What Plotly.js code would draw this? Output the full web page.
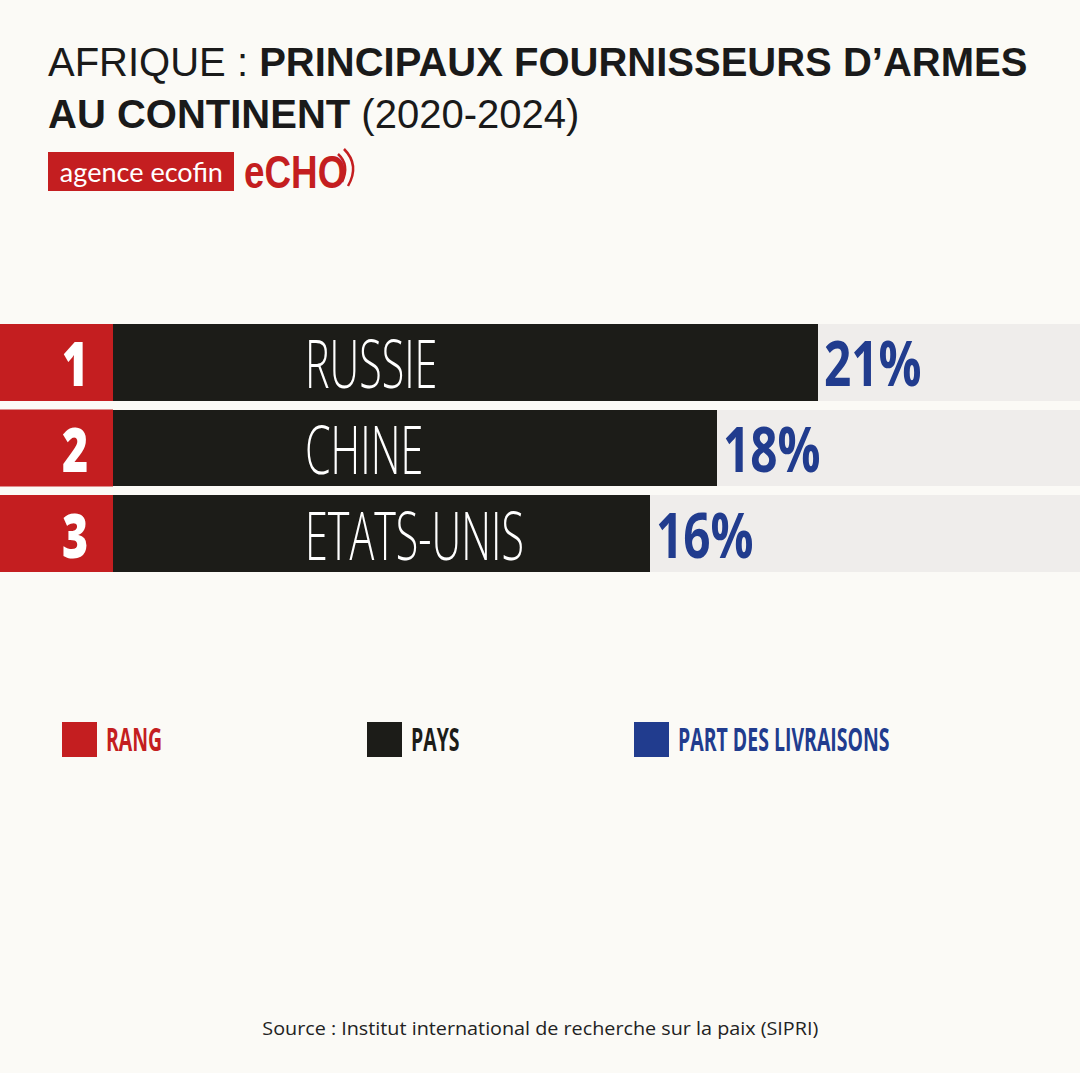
<!DOCTYPE html>
<html>
<head>
<meta charset="utf-8">
<script src="https://cdn.plot.ly/plotly-3.0.1.min.js"></script>
<style>
  html, body { margin: 0; padding: 0; background: #FBFAF6; }
  #chart { width: 1080px; height: 1073px; }
</style>
</head>
<body>
<div id="chart"></div>
<script>
// ---- data ----
const ranks = [1, 2, 3];
const countries = ['RUSSIE', 'CHINE', 'ETATS-UNIS'];
const shares = [21, 18, 16];
const legendLabels = ['RANG', 'PAYS', 'PART DES LIVRAISONS'];
const sourceText = 'Source : Institut international de recherche sur la paix (SIPRI)';

// ---- styling ----
const W = 1080, H = 1073;
const RED = '#C41E20', BLACK = '#1C1C18', BLUE = '#213C8E', GREY = '#EFEDEB', BG = '#FBFAF6';
const XMAX = 28.8;
const BARW = 0.9;
const SANS = '"Open Sans", "Noto Sans", sans-serif';
const px = v => v / W;
const py = v => 1 - v / H;

const track = {
  type: 'bar', orientation: 'h', y: ranks, x: ranks.map(() => XMAX),
  marker: { color: GREY }, width: BARW, hoverinfo: 'skip', showlegend: false
};
const bars = {
  type: 'bar', orientation: 'h', y: ranks, x: shares, name: 'PAYS',
  marker: { color: BLACK }, width: BARW,
  hoverinfo: 'skip', showlegend: false
};

const shapes = [];
const annotations = [];
const squeeze = []; // [annotation index, horizontal factor, keep left edge]
function addAnn(a, factor, left) {
  annotations.push(a);
  if (factor) squeeze.push([annotations.length - 1, factor, left]);
}

// rank boxes, names, shares
ranks.forEach((r, i) => {
  shapes.push({ type: 'rect', xref: 'paper', yref: 'y', x0: 0, x1: px(113),
    y0: r - BARW / 2, y1: r + BARW / 2, fillcolor: RED, line: { width: 0 }, layer: 'above' });
  addAnn({ xref: 'paper', yref: 'y', x: px(75), y: r, text: String(r),
    showarrow: false, xanchor: 'center', yanchor: 'middle',
    font: { family: SANS, size: 62, weight: 800, color: '#FFFFFF' } }, 0.72, false);
  addAnn({ xref: 'paper', yref: 'y', x: px(303), y: r, text: countries[i],
    showarrow: false, xanchor: 'left', yanchor: 'middle',
    font: { family: SANS, size: 66, weight: 300, color: '#FFFFFF' } }, 0.625, true);
  addAnn({ xref: 'x', yref: 'y', x: shares[i], y: r, text: shares[i] + '%',
    showarrow: false, xanchor: 'left', yanchor: 'middle', xshift: 4,
    font: { family: SANS, size: 62, weight: 700, color: BLUE } }, 0.77, true);
});

// legend (custom)
const legendColors = [RED, BLACK, BLUE];
const legendX = [62, 367, 634];
legendLabels.forEach((lab, i) => {
  shapes.push({ type: 'rect', xref: 'paper', yref: 'paper', x0: px(legendX[i]), x1: px(legendX[i] + 35),
    y0: py(757), y1: py(722), fillcolor: legendColors[i], line: { width: 0 } });
  addAnn({ xref: 'paper', yref: 'paper', x: px(legendX[i] + 42), y: py(738),
    text: lab, showarrow: false, xanchor: 'left', yanchor: 'middle',
    font: { family: SANS, size: 33, weight: 700, color: legendColors[i] } }, 0.59, true);
});

// logo
shapes.push({ type: 'rect', xref: 'paper', yref: 'paper', x0: px(48), x1: px(234),
  y0: py(191), y1: py(152), fillcolor: RED, line: { width: 0 } });
addAnn({ xref: 'paper', yref: 'paper', x: px(141), y: py(172), text: 'agence ecofin',
  showarrow: false, xanchor: 'center', yanchor: 'middle',
  font: { family: 'Lato, "Noto Sans", sans-serif', size: 26, color: '#FFFFFF' } }, 1.04, false);
addAnn({ xref: 'paper', yref: 'paper', x: px(242), y: py(172), text: 'eCHO',
  showarrow: false, xanchor: 'left', yanchor: 'middle',
  font: { family: '"Liberation Sans", Arial, sans-serif', size: 46, weight: 700, color: RED } }, 0.8, true);
shapes.push({ type: 'path', xref: 'paper', yref: 'paper',
  path: `M ${px(338)} ${py(154)} Q ${px(350)} ${py(165)} ${px(342)} ${py(182)}`,
  line: { color: RED, width: 2.5 } });
shapes.push({ type: 'path', xref: 'paper', yref: 'paper',
  path: `M ${px(344)} ${py(149)} Q ${px(360)} ${py(165)} ${px(348)} ${py(186)}`,
  line: { color: RED, width: 2.5 } });

// source
addAnn({ xref: 'paper', yref: 'paper', x: 0.5, y: py(1028), text: sourceText,
  showarrow: false, xanchor: 'center', yanchor: 'middle',
  font: { family: '"Open Sans", "Noto Sans", sans-serif', size: 19, color: '#222222' } }, 1.04, false);

const layout = {
  width: W, height: H,
  paper_bgcolor: BG, plot_bgcolor: BG,
  margin: { l: 0, r: 0, t: 0, b: 0 },
  barmode: 'overlay', bargap: 0,
  showlegend: false,
  title: {
    text: 'AFRIQUE : <b>PRINCIPAUX FOURNISSEURS D’ARMES</b><br><b>AU CONTINENT</b> (2020-2024)',
    x: px(48), xanchor: 'left', xref: 'paper',
    y: py(76), yanchor: 'top', yref: 'container',
    font: { family: '"Liberation Sans", Arial, sans-serif', size: 40, color: '#1A1A1A' }
  },
  xaxis: { domain: [px(113), 1], range: [0, XMAX], visible: false, fixedrange: true },
  yaxis: { domain: [py(572), py(324)], range: [3.45, 0.55], visible: false, fixedrange: true },
  shapes, annotations
};

Plotly.newPlot('chart', [track, bars], layout, { staticPlot: true }).then(gd => {
  // condense selected texts horizontally (emulates the condensed display face)
  squeeze.forEach(([idx, f, left]) => {
    const g = gd.querySelector('g.annotation[data-index="' + idx + '"]');
    if (!g) return;
    const t = g.querySelector('text.annotation-text');
    if (!t) return;
    const bb = t.getBBox();
    const w = t.getComputedTextLength();
    if (left) {
      t.setAttribute('text-anchor', 'start');
      t.setAttribute('x', bb.x);
      t.querySelectorAll('tspan').forEach(s => s.removeAttribute('x'));
    }
    t.setAttribute('textLength', (w * f).toFixed(1));
    t.setAttribute('lengthAdjust', 'spacingAndGlyphs');
  });
});
</script>
</body>
</html>
